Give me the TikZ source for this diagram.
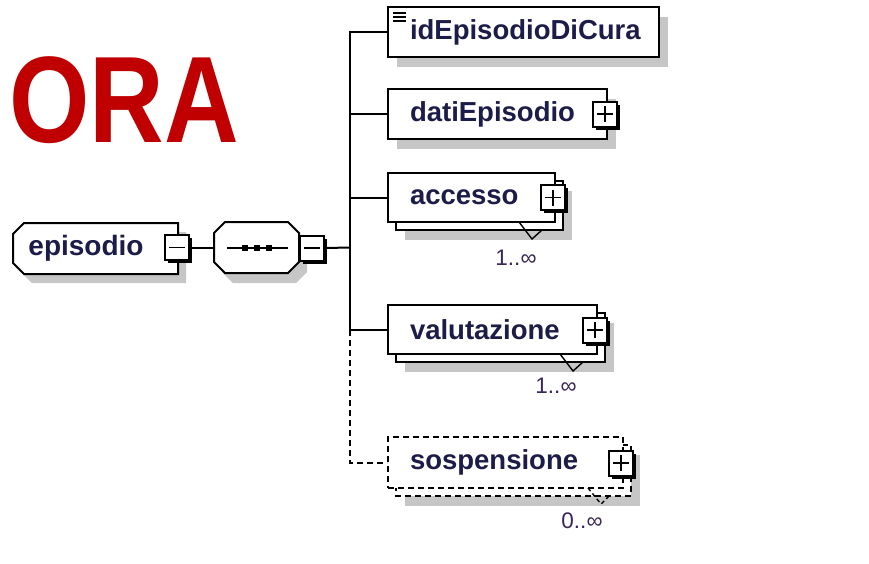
\documentclass[tikz,border=0pt]{standalone}
\usepackage{fontspec}
\setmainfont{Liberation Sans}
\usetikzlibrary{shadows}
\definecolor{orared}{HTML}{C00000}
\definecolor{txt}{HTML}{1C1C48}
\definecolor{mulc}{HTML}{3A2658}
\definecolor{shd}{HTML}{C6C6C6}
\tikzset{
 conn/.style={line width=2pt, black},
 dconn/.style={conn, dash pattern=on 6pt off 4pt},
 elem/.style={draw=black, line width=2pt, fill=white, inner xsep=22pt, inner ysep=0pt, align=left, minimum height=50pt, font=\bfseries\fontsize{27.5}{27.5}\selectfont, text=txt},
 eshadow/.style={drop shadow={shadow xshift=9pt, shadow yshift=-10pt, fill=shd, opacity=1}},
 backbox/.style={draw=black, line width=2pt, fill=white},
 pmbox/.style={draw=black, line width=2pt, fill=white, minimum width=24pt, minimum height=25pt, inner sep=0pt},
 sign/.style={line width=1.8pt, black},
 mult/.style={font=\fontsize{22.5}{22.5}\selectfont, text=mulc, inner sep=0pt},
 icon/.style={line width=1.4pt, black},
}
\newcommand\pmnode[4]{%
 \fill[black] (#2-9,#3-9.5) rectangle (#2+15,#3+15.5);
 \node[pmbox] (#1) at (#2,#3) {};
 \draw[sign] ([xshift=-8pt]#1.center) -- ([xshift=8pt]#1.center);
 \ifnum#4=1 \draw[sign] ([yshift=-8pt]#1.center) -- ([yshift=8pt]#1.center);\fi}
\begin{document}
\begin{tikzpicture}[x=1pt,y=-1pt]
\useasboundingbox[fill=white] (0,0) rectangle (869,563);

% ORA
\node[font=\bfseries\fontsize{123}{123}\selectfont, text=orared, anchor=base west, inner sep=0pt] (ora) at (9,142) {\scalebox{0.84}[1]{ORA}};

% episodio
\fill[shd] (32,232) -- (186,232) -- (186,283) -- (32,283) -- (21,272) -- (21,243) -- cycle;
\draw[backbox] (24,223) -- (178,223) -- (178,274) -- (24,274) -- (13,263) -- (13,234) -- cycle;
\node[font=\bfseries\fontsize{28}{28}\selectfont, text=txt, inner sep=0pt] (epi) at (86,248) {episodio};
\pmnode{epim}{177}{247.5}{0}

% sequence
\fill[shd] (233,232) -- (296,232) -- (307,243) -- (307,272) -- (296,283) -- (233,283) -- (222,272) -- (222,243) -- cycle;
\draw[backbox] (225,222) -- (288,222) -- (299,233) -- (299,262) -- (288,273) -- (225,273) -- (214,262) -- (214,233) -- cycle;
\node[minimum width=85pt, minimum height=51pt, inner sep=0pt] (seq) at (256.5,247.5) {};
\draw[conn] (227,247.5) -- (288,247.5);
\fill (242,244.5) rectangle (248,250.5);
\fill (254,244.5) rectangle (260,250.5);
\fill (266,244.5) rectangle (272,250.5);
\pmnode{seqm}{312}{248}{0}

\draw[conn] (epim.east) -- (seq.west);
\coordinate (trunk) at (350,247.5);
\draw[conn] (seqm.east) -- (trunk);

% idEpisodioDiCura
\node[elem, eshadow, text width=227pt] (id) at (523.5,32) {idEpisodioDiCura};
\draw[icon] (393,13) -- (406,13);
\draw[icon] (393,17) -- (406,17);
\draw[icon] (393,21) -- (406,21);

% datiEpisodio
\node[elem, eshadow, text width=175pt] (dati) at (497.5,114) {datiEpisodio};
\pmnode{datip}{605}{114}{1}

% accesso
\fill[shd] (405,191) rectangle (572,240);
\draw[backbox] (396,181) rectangle (563,230);
\node[elem, minimum height=49pt, text width=123pt] (acc) at (471.5,197.5) {accesso};
\draw[icon] (519,222) -- (532,239) -- (542,230);
\pmnode{accp}{553}{197.5}{1}
\node[mult] (accmul) at (516,258) {1..∞};

% valutazione
\fill[shd] (405,323) rectangle (614,372);
\draw[backbox] (396,313) rectangle (605,362);
\node[elem, minimum height=49pt, text width=165pt] (val) at (492.5,329.5) {valutazione};
\draw[icon] (560,354) -- (573,371) -- (583,362);
\pmnode{valp}{595}{330}{1}
\node[mult] (valmul) at (556,386) {1..∞};

% sospensione
\fill[shd] (405,455) rectangle (640,506);
\draw[backbox, dash pattern=on 6pt off 4pt] (396,445) rectangle (631,496);
\node[elem, minimum height=51pt, text width=191pt, dash pattern=on 6pt off 4pt] (sos) at (505.5,462.5) {sospensione};
\draw[icon, dash pattern=on 4pt off 3pt] (588,488) -- (601,504) -- (609,496);
\pmnode{sosp}{621}{463}{1}
\node[mult] (sosmul) at (582,521) {0..∞};

% connectors from trunk
\draw[conn] (trunk) |- (id.west);
\draw[conn] (trunk) |- (dati.west);
\draw[conn] (trunk) |- (acc.west);
\draw[conn] (trunk) |- (val.west);
\draw[dconn] (trunk |- val.west) |- (sos.west);
\end{tikzpicture}
\end{document}
